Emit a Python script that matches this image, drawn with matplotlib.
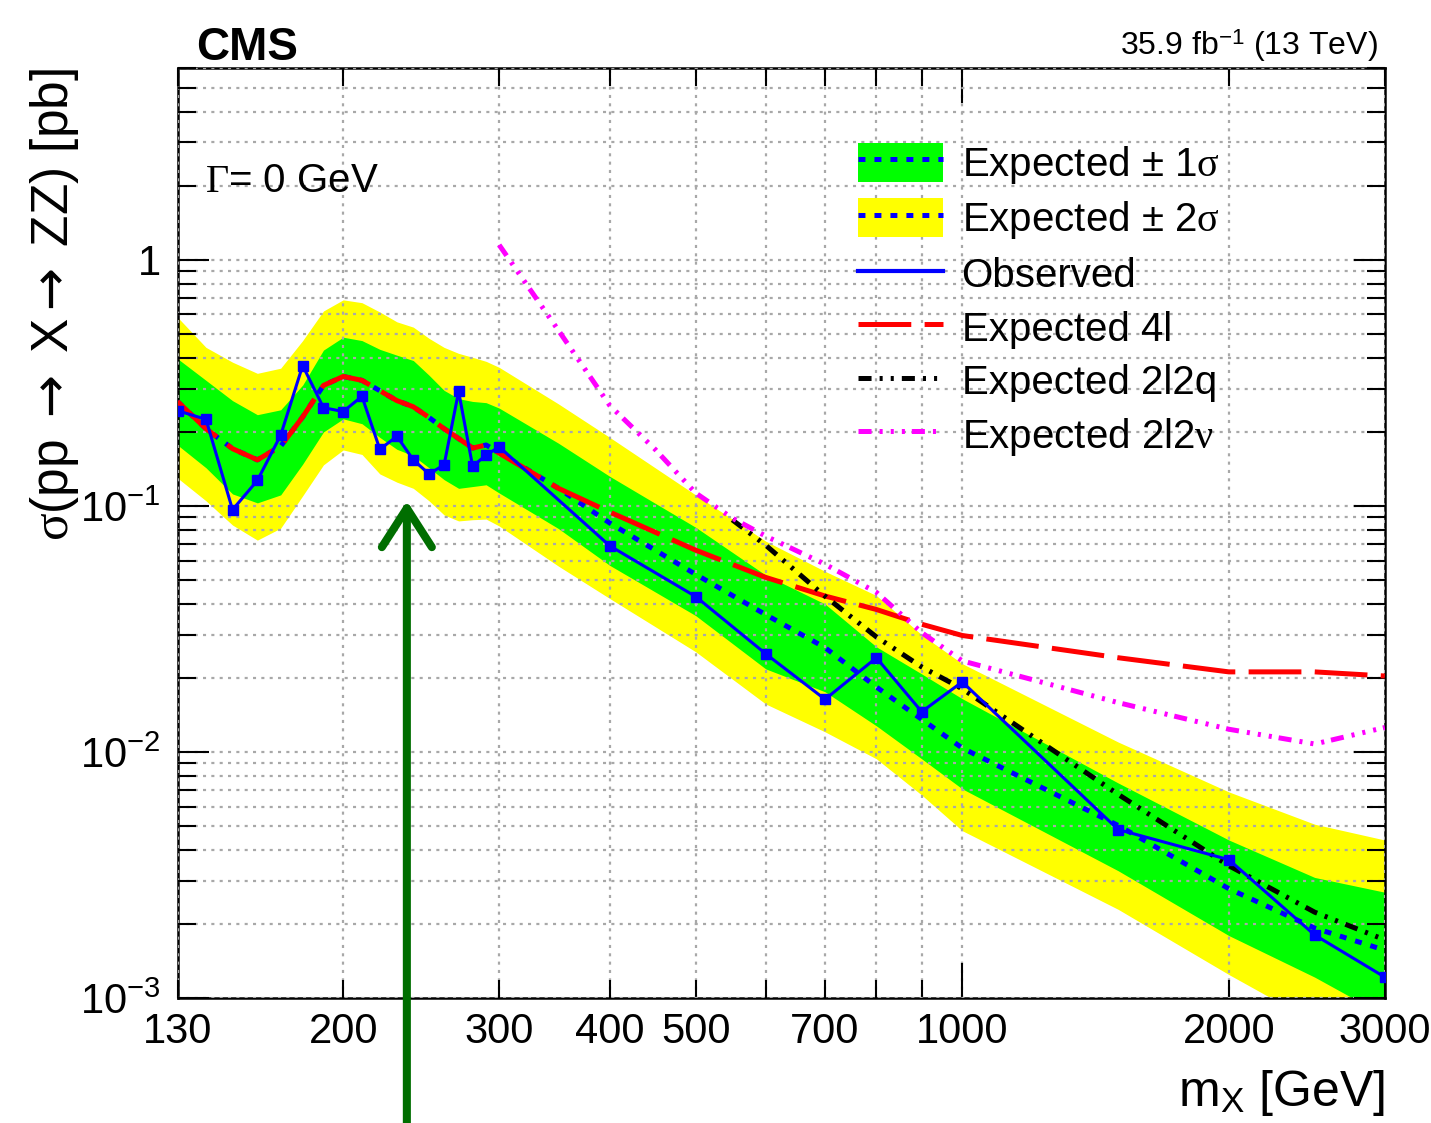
import matplotlib
matplotlib.use('Agg')
import matplotlib.pyplot as plt
from matplotlib.patches import Patch
from matplotlib.lines import Line2D
from matplotlib.ticker import FixedLocator, FixedFormatter, NullFormatter, LogLocator

plt.rcParams['font.family'] = ['Liberation Sans', 'DejaVu Sans']
plt.rcParams['mathtext.fontset'] = 'custom'
plt.rcParams['mathtext.rm'] = 'Liberation Serif'
plt.rcParams['mathtext.sf'] = 'Liberation Sans'
plt.rcParams['mathtext.it'] = 'Liberation Serif:italic'
plt.rcParams['mathtext.bf'] = 'Liberation Sans:bold'
plt.rcParams['mathtext.cal'] = 'DejaVu Sans'  # only used for the arrows in the y title
plt.rcParams['lines.scale_dashes'] = False

# masses for the expected limits and bands
mass_exp = [130, 140, 150, 160, 170, 180, 190, 200, 210, 220, 230, 240, 250, 260, 270, 280, 290, 300,
            350, 400, 500, 600, 700, 800, 900, 1000, 1500, 2000, 2500, 3000]
# expected combined (median)
exp_comb = [0.266, 0.206, 0.171, 0.154, 0.175, 0.23, 0.309, 0.336, 0.324, 0.294, 0.268, 0.253, 0.229, 0.206,
            0.188, 0.172, 0.177, 0.165, 0.118, 0.0853, 0.0528, 0.0362, 0.0266, 0.0184, 0.0136, 0.0104,
            0.00504, 0.00279, 0.00193, 0.00157]
# +-1 sigma
band1_up = [0.397, 0.324, 0.268, 0.235, 0.246, 0.31, 0.43, 0.485, 0.47, 0.433, 0.41, 0.39, 0.34, 0.295,
            0.273, 0.266, 0.263, 0.25, 0.18, 0.132, 0.082, 0.0524, 0.040, 0.0268, 0.0208, 0.0165,
            0.0075, 0.0044, 0.0031, 0.0027]
band1_dn = [0.177, 0.143, 0.112, 0.103, 0.111, 0.148, 0.2, 0.226, 0.216, 0.19, 0.17, 0.16, 0.143, 0.128,
            0.118, 0.12, 0.122, 0.113, 0.081, 0.0574, 0.0359, 0.0218, 0.0176, 0.0128, 0.0094, 0.0071,
            0.0033, 0.0018, 0.00122, 0.00085]
# +-2 sigma
band2_up = [0.585, 0.441, 0.384, 0.346, 0.363, 0.47, 0.62, 0.688, 0.67, 0.614, 0.56, 0.533, 0.48, 0.441,
            0.417, 0.402, 0.387, 0.366, 0.26, 0.19, 0.111, 0.072, 0.0543, 0.0433, 0.030, 0.0229,
            0.011, 0.0069, 0.0051, 0.0044]
band2_dn = [0.13, 0.105, 0.0837, 0.0727, 0.0813, 0.11, 0.147, 0.169, 0.162, 0.135, 0.125, 0.118, 0.105,
            0.092, 0.087, 0.088, 0.0885, 0.083, 0.057, 0.0421, 0.0256, 0.0157, 0.0121, 0.0094, 0.0067,
            0.0048, 0.0023, 0.00125, 0.0008, 0.00054]
# expected 4l
exp_4l = [0.266, 0.206, 0.171, 0.154, 0.175, 0.23, 0.309, 0.336, 0.324, 0.294, 0.268, 0.253, 0.229, 0.206,
          0.188, 0.172, 0.177, 0.164, 0.118, 0.0945, 0.0662, 0.0513, 0.0431, 0.038, 0.0331, 0.0298,
          0.0242, 0.0212, 0.0212, 0.0204]

# observed
mass_obs = [130, 140, 150, 160, 170, 180, 190, 200, 210, 220, 230, 240, 250, 260, 270, 280, 290, 300,
            400, 500, 600, 700, 800, 900, 1000, 1500, 2000, 2500, 3000]
obs = [0.244, 0.225, 0.0966, 0.127, 0.194, 0.372, 0.251, 0.242, 0.279, 0.170, 0.192, 0.154, 0.135, 0.147,
       0.292, 0.145, 0.161, 0.174, 0.0689, 0.0429, 0.0251, 0.0164, 0.0242, 0.0146, 0.0193, 0.00485,
       0.00366, 0.00181, 0.00122]

# expected 2l2q
mass_2l2q = [550, 600, 700, 800, 900, 1000, 1500, 2000, 2500, 3000]
exp_2l2q = [0.0879, 0.0693, 0.043, 0.0294, 0.0222, 0.0181, 0.00674, 0.00346, 0.00224, 0.00173]

# expected 2l2nu
mass_2l2nu = [300, 350, 400, 450, 500, 550, 600, 700, 800, 900, 1000, 1500, 2000, 2500, 3000]
exp_2l2nu = [1.15, 0.517, 0.256, 0.17, 0.113, 0.0893, 0.0755, 0.058, 0.0446, 0.0306, 0.0235, 0.0159,
             0.0124, 0.0108, 0.0126]

arrow_mass = 236
arrow_tip = 0.105

y_ticks = [1e-3, 1e-2, 1e-1, 1]
y_labels = [r'$\mathsf{10^{-3}}$', r'$\mathsf{10^{-2}}$', r'$\mathsf{10^{-1}}$', '1']
x_ticks = [130, 200, 300, 400, 500, 600, 700, 800, 900, 2000, 3000]
x_labels = ['130', '200', '300', '400', '500', '', '700', '', '', '2000', '3000']

fig = plt.figure(figsize=(14.31, 11.23), dpi=100)
ax = fig.add_axes([177.5 / 1431, 1 - 998.4 / 1123, (1384.8 - 177.5) / 1431, (998.4 - 68.3) / 1123])
ax.set_xscale('log')
ax.set_yscale('log')

ax.fill_between(mass_exp, band2_dn, band2_up, color='#ffff00', lw=0, zorder=1)
ax.fill_between(mass_exp, band1_dn, band1_up, color='#00ff00', lw=0, zorder=2)
ax.plot(mass_exp, exp_comb, color='#0000ff', lw=3.6, dashes=(5, 6.5), zorder=4)
ax.plot(mass_exp, exp_4l, color='#ff0000', lw=3.6, dashes=(38, 9.6), zorder=5)
ax.plot(mass_2l2q, exp_2l2q, color='black', lw=3.6, dashes=(9.4, 5.8, 2.2, 5.8, 2.2, 5.8), zorder=5)
ax.plot(mass_2l2nu, exp_2l2nu, color='#ff00ff', lw=3.6,
        dashes=(9.4, 5.8, 2.2, 5.8, 2.2, 5.8, 2.2, 5.0), zorder=5)
ax.plot(mass_obs, obs, color='#0000ff', lw=2.2, marker='s', ms=7, zorder=6)

ax.set_xlim(130, 3000)
ax.set_ylim(1e-3, 6.0)

# ticks
ax.yaxis.set_major_locator(FixedLocator(y_ticks))
ax.yaxis.set_major_formatter(FixedFormatter(y_labels))
ax.yaxis.set_minor_locator(LogLocator(base=10, subs=[2, 3, 4, 5, 6, 7, 8, 9], numticks=20))
ax.yaxis.set_minor_formatter(NullFormatter())
ax.xaxis.set_major_locator(FixedLocator([1000]))
ax.xaxis.set_major_formatter(FixedFormatter(['1000']))
ax.xaxis.set_minor_locator(FixedLocator(x_ticks))
ax.xaxis.set_minor_formatter(FixedFormatter(x_labels))

ax.tick_params(which='both', direction='in', top=True, right=True, width=1.5, labelsize=30)
ax.tick_params(axis='y', which='major', length=22, pad=12)
ax.tick_params(axis='y', which='minor', length=13)
ax.tick_params(axis='x', which='major', length=25, pad=10)
ax.tick_params(axis='x', which='minor', length=13, pad=10)
for s in ax.spines.values():
    s.set_linewidth(1.8)

ax.grid(which='both', color='#a8a8a8', lw=1.6, linestyle=(0, (2.2, 3.8)))
ax.set_axisbelow(False)

# legend
h1 = (Patch(facecolor='#00ff00', edgecolor='none'), Line2D([], [], color='#0000ff', lw=3.6, dashes=(5, 6.5)))
h2 = (Patch(facecolor='#ffff00', edgecolor='none'), Line2D([], [], color='#0000ff', lw=3.6, dashes=(5, 6.5)))
h3 = Line2D([], [], color='#0000ff', lw=3)
h4 = Line2D([], [], color='#ff0000', lw=3.6, dashes=(38, 9.6))
h5 = Line2D([], [], color='black', lw=3.6, dashes=(9.4, 5.8, 2.2, 5.8, 2.2, 5.8))
h6 = Line2D([], [], color='#ff00ff', lw=3.6, dashes=(9.4, 5.8, 2.2, 5.8, 2.2, 5.8, 2.2, 5.0))
labels = ['Expected ± 1$\\mathrm{\\sigma}$', 'Expected ± 2$\\mathrm{\\sigma}$', 'Observed',
          'Expected 4l', 'Expected 2l2q', 'Expected 2l2$\\mathrm{\\nu}$']
ax.legend([h1, h2, h3, h4, h5, h6], labels, loc='upper left', bbox_to_anchor=(0.5637, 0.920),
          frameon=False, fontsize=29, handlelength=2.1, handleheight=1.11, handletextpad=0.47,
          labelspacing=0.31, borderpad=0, borderaxespad=0)

ax.text((205 - 177.5) / 1207.3, (998.4 - 192) / 930.1, r'$\mathrm{\Gamma}$= 0 GeV', fontsize=29,
        transform=ax.transAxes, va='baseline', ha='left')

# arrow from below the plot
ax.annotate('', xy=(arrow_mass, arrow_tip), xytext=(arrow_mass, 0), xycoords='data',
            textcoords=('data', 'figure fraction'),
            arrowprops=dict(arrowstyle='->,head_length=1.4,head_width=0.9', color='#006e00', lw=5.8,
                            shrinkA=0, shrinkB=0, mutation_scale=20),
            annotation_clip=False, zorder=7)

fig.text(196 / 1431, 1 - 60 / 1123, 'CMS', fontsize=33, fontweight='bold', ha='left', va='baseline')
fig.text(1378 / 1431, 1 - 55 / 1123, r'35.9 fb$^{\mathsf{-1}}$ (13 TeV)', fontsize=23, ha='right',
         va='baseline')
fig.text(55 / 1431, 1 - 68 / 1123, r'$\mathrm{\sigma}$(pp $\mathcal{\rightarrow}$ X$\mathcal{\rightarrow}$ ZZ) [pb]',
         fontsize=37, rotation=90, ha='center', va='top')
fig.text(1385 / 1431, 1 - 1106 / 1123, r'm$_{\mathsf{X}}$ [GeV]', fontsize=36, ha='right', va='baseline')

fig.savefig('out.png', dpi=100)
